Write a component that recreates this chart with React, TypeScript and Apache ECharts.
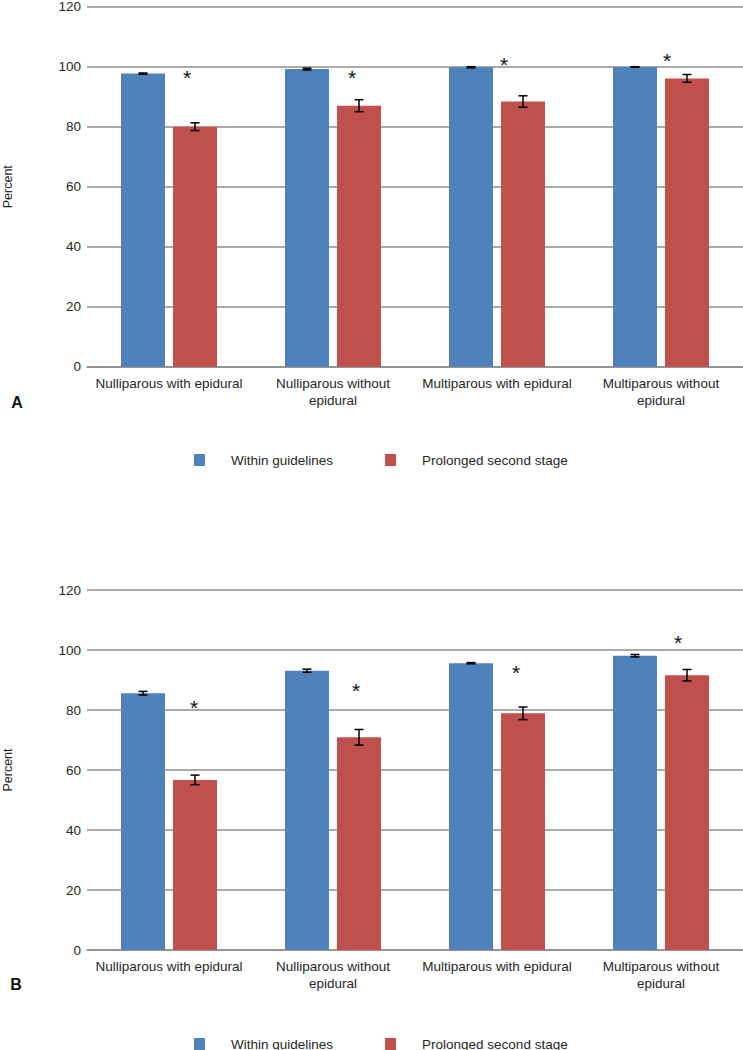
import React, { useEffect, useRef } from "react";
import * as echarts from "echarts";

// ---------- data ----------
const categories = [
  "Nulliparous with epidural",
  "Nulliparous without\nepidural",
  "Multiparous with epidural",
  "Multiparous without\nepidural",
];
const seriesNames = ["Within guidelines", "Prolonged second stage"];
const yTicks = { min: 0, max: 120, interval: 20 };

// Panel A
const withinA = [97.7, 99.2, 99.8, 99.9];
const withinErrA = [0.2, 0.3, 0.2, 0.1];
const prolongedA = [80.0, 87.0, 88.4, 96.1];
const prolongedErrA = [1.3, 2.0, 1.9, 1.3];
const asteriskA = [97.7, 97.7, 102.0, 103.3];

// Panel B
const withinB = [85.6, 93.1, 95.6, 98.1];
const withinErrB = [0.6, 0.5, 0.2, 0.4];
const prolongedB = [56.7, 70.9, 78.9, 91.6];
const prolongedErrB = [1.6, 2.6, 2.1, 1.9];
const asteriskB = [82.3, 87.7, 94.0, 103.7];

// ---------- styles ----------
const BLUE = "#4F81BD";
const RED = "#C0504D";
const GRID_COLOR = "#8e8e8e";
const TEXT_COLOR = "#262626";
const FONT = "'Liberation Sans', Arial, Helvetica, sans-serif";
const BAR_W = 44;
const BAR_GAP = 8;
const HALF_OFFSET = (BAR_W + BAR_GAP) / 2;
const CAP = 9;
const ASTERISK_DX_A = [18, 19, 7, 6];
const ASTERISK_DX_B = [25, 23, 19, 17];

function errorRender(params: any, api: any) {
  const x = api.value(0);
  const v = api.value(1);
  const e = api.value(2);
  const side = api.value(3);
  const top = api.coord([x, v + e]);
  const bot = api.coord([x, v - e]);
  const cx = top[0] + side * HALF_OFFSET;
  const st = { stroke: "#000", lineWidth: 1.5 };
  return {
    type: "group",
    children: [
      { type: "line", shape: { x1: cx, y1: top[1], x2: cx, y2: bot[1] }, style: st },
      { type: "line", shape: { x1: cx - CAP / 2, y1: top[1], x2: cx + CAP / 2, y2: top[1] }, style: st },
      { type: "line", shape: { x1: cx - CAP / 2, y1: bot[1], x2: cx + CAP / 2, y2: bot[1] }, style: st },
    ],
  };
}

function makeAsteriskRender(dx: number[]) {
  return (params: any, api: any) => {
    const x = api.value(0);
    const v = api.value(1);
    const c = api.coord([x, v]);
    return {
      type: "text",
      x: c[0] + dx[params.dataIndex],
      y: c[1] + 4,
      style: {
        text: "*",
        fontSize: 21,
        fontFamily: FONT,
        fill: "#111",
        align: "center",
        verticalAlign: "middle",
      },
    };
  };
}

function errData(within: number[], wErr: number[], prolonged: number[], pErr: number[]) {
  const out: number[][] = [];
  within.forEach((v, i) => out.push([i, v, wErr[i], -1]));
  prolonged.forEach((v, i) => out.push([i, v, pErr[i], 1]));
  return out;
}

export default function App() {
  const ref = useRef<HTMLDivElement>(null);
  useEffect(() => {
    if (!ref.current) return;
    const chart = echarts.init(ref.current, null, { renderer: "svg" });

    const xAxisBase = (gridIndex: number) => ({
      type: "category",
      gridIndex,
      data: categories,
      axisTick: { show: false },
      axisLine: { show: true, lineStyle: { color: GRID_COLOR, width: 1.5 } },
      axisLabel: {
        color: TEXT_COLOR,
        fontSize: 13.5,
        fontFamily: FONT,
        margin: 8,
        lineHeight: 17,
        interval: 0,
      },
    });
    const yAxisBase = (gridIndex: number) => ({
      type: "value",
      gridIndex,
      min: yTicks.min,
      max: yTicks.max,
      interval: yTicks.interval,
      name: "Percent",
      nameLocation: "middle",
      nameGap: 73,
      nameRotate: 90,
      nameTextStyle: { color: TEXT_COLOR, fontSize: 12.5, fontFamily: FONT },
      axisLine: { show: false },
      axisTick: { show: false },
      axisLabel: { color: TEXT_COLOR, fontSize: 13.5, fontFamily: FONT, margin: 6 },
      splitLine: { show: true, lineStyle: { color: GRID_COLOR, width: 1.5 } },
    });
    const barSeries = (name: string, data: number[], color: string, idx: number) => ({
      type: "bar",
      name,
      xAxisIndex: idx,
      yAxisIndex: idx,
      data,
      barWidth: BAR_W,
      barGap: `${(BAR_GAP / BAR_W) * 100}%`,
      itemStyle: { color },
      emphasis: { disabled: true },
    });
    const legendBase = (top: number) => ({
      data: seriesNames,
      left: 194,
      top,
      padding: 0,
      icon: "rect",
      itemWidth: 11,
      itemHeight: 12,
      itemGap: 52,
      selectedMode: false,
      textStyle: {
        color: TEXT_COLOR,
        fontSize: 13.5,
        fontFamily: FONT,
        padding: [0, 0, 0, 21],
      },
    });

    chart.setOption({
      animation: false,
      backgroundColor: "#fff",
      textStyle: { fontFamily: FONT },
      grid: [
        { left: 87, right: 0, top: 6.7, bottom: 1050 - 366.7, containLabel: false, outerBoundsMode: "none" },
        { left: 87, right: 0, top: 590, bottom: 100, containLabel: false, outerBoundsMode: "none" },
      ],
      xAxis: [xAxisBase(0), xAxisBase(1)],
      yAxis: [yAxisBase(0), yAxisBase(1)],
      legend: [legendBase(453), legendBase(1037)],
      graphic: [
        {
          type: "text",
          x: 17,
          y: 402,
          style: { text: "A", fontSize: 16, fontWeight: "bold", fontFamily: FONT, fill: "#111", align: "center", verticalAlign: "middle" },
        },
        {
          type: "text",
          x: 16,
          y: 984,
          style: { text: "B", fontSize: 16, fontWeight: "bold", fontFamily: FONT, fill: "#111", align: "center", verticalAlign: "middle" },
        },
      ],
      series: [
        barSeries(seriesNames[0], withinA, BLUE, 0),
        barSeries(seriesNames[1], prolongedA, RED, 0),
        barSeries(seriesNames[0], withinB, BLUE, 1),
        barSeries(seriesNames[1], prolongedB, RED, 1),
        {
          type: "custom",
          xAxisIndex: 0,
          yAxisIndex: 0,
          renderItem: errorRender,
          data: errData(withinA, withinErrA, prolongedA, prolongedErrA),
          z: 10,
          clip: false,
        },
        {
          type: "custom",
          xAxisIndex: 1,
          yAxisIndex: 1,
          renderItem: errorRender,
          data: errData(withinB, withinErrB, prolongedB, prolongedErrB),
          z: 10,
          clip: false,
        },
        {
          type: "custom",
          xAxisIndex: 0,
          yAxisIndex: 0,
          renderItem: makeAsteriskRender(ASTERISK_DX_A),
          data: asteriskA.map((v, i) => [i, v]),
          z: 10,
          clip: false,
        },
        {
          type: "custom",
          xAxisIndex: 1,
          yAxisIndex: 1,
          renderItem: makeAsteriskRender(ASTERISK_DX_B),
          data: asteriskB.map((v, i) => [i, v]),
          z: 10,
          clip: false,
        },
      ],
    });
    return () => chart.dispose();
  }, []);

  return (
    <div
      ref={ref}
      style={{ position: "absolute", left: 0, top: 0, width: 743, height: 1050, background: "#fff" }}
    />
  );
}
